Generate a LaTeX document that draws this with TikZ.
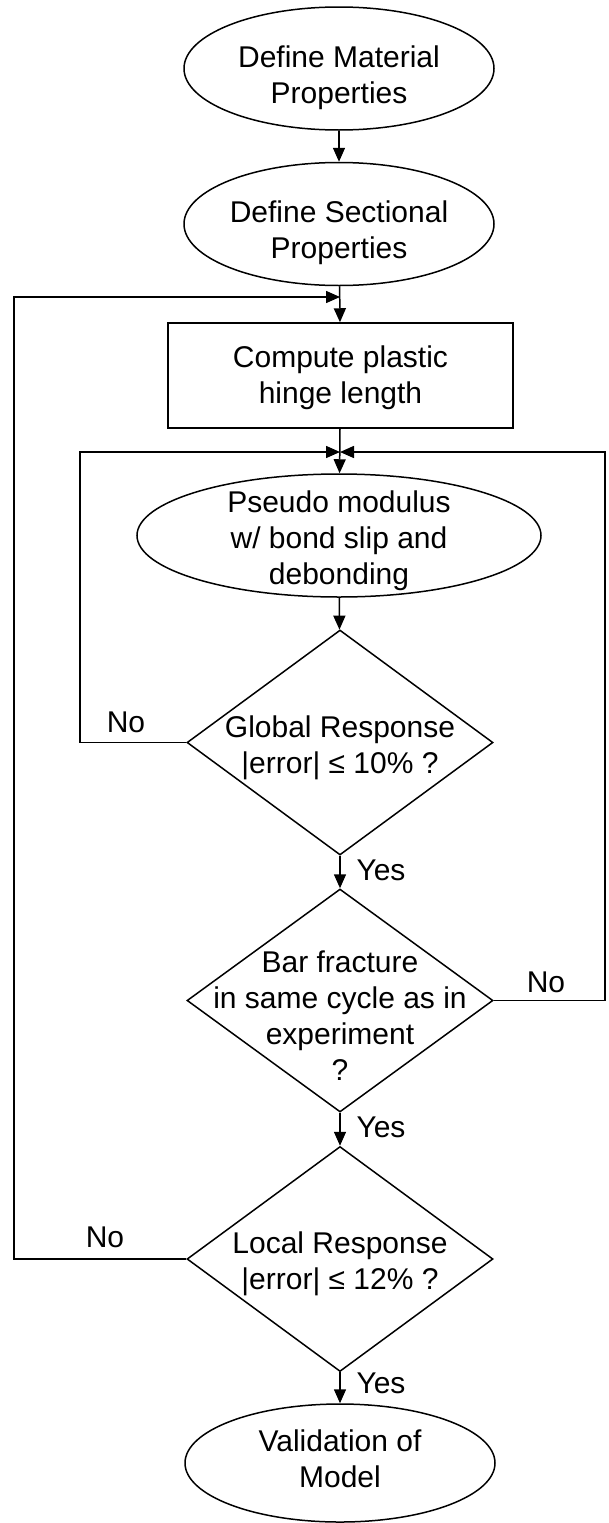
\documentclass[tikz,border=0pt]{standalone}
\usepackage{fontspec}
\setmainfont{Liberation Sans}
\usetikzlibrary{shapes.geometric,arrows.meta}
\newcommand{\flowtext}[2][0pt]{\makebox[0pt]{\smash{\raisebox{#1}{\begin{tabular}[t]{@{}c@{}}#2\end{tabular}}}}}
\begin{document}
\begin{tikzpicture}[x=1pt,y=-1pt,
  font=\fontsize{30}{36}\selectfont,
  oval/.style={ellipse, draw, line width=1.5pt, inner sep=0pt, minimum width=310pt, minimum height=123pt},
  procbox/.style={rectangle, draw, line width=1.5pt, inner sep=0pt},
  decision/.style={diamond, draw, line width=1.5pt, inner sep=0pt, minimum width=306pt, minimum height=225pt},
  arr/.style={-{Triangle[width=12pt,length=14pt]}, line width=1.5pt}]
\useasboundingbox (0,0) rectangle (608,1523);
\node[oval] (mat) at (339,68.5){\flowtext[1pt]{Define Material\\Properties}};
\node[oval] (sec) at (339,224){\flowtext[2pt]{Define Sectional\\Properties}};
\node[procbox, minimum width=345pt, minimum height=105pt] (hinge) at (340.5,375.5){\flowtext[8.5pt]{Compute plastic\\hinge length}};
\node[oval, minimum width=404pt] (pseudo) at (339,535.5){\flowtext[23.5pt]{Pseudo modulus\\w/ bond slip and\\debonding}};
\node[decision] (glob) at (340,742.5){\flowtext[5.5pt]{Global Response\\|error| ≤ 10\% ?}};
\node[decision, minimum height=223pt] (bar) at (340,1000.5){\flowtext[28.5pt]{Bar fracture\\in same cycle as in\\experiment\\?}};
\node[decision] (loc) at (340,1259){\flowtext[6pt]{Local Response\\|error| ≤ 12\% ?}};
\node[oval, minimum height=118pt] (valid) at (340,1463){\flowtext[12pt]{Validation of\\Model}};
\coordinate (j1) at (340,297);
\coordinate (j2) at (340,452);
\coordinate (lo) at (14,297);
\coordinate (li) at (80,452);
\coordinate (ri) at (605,452);
\node (no1) at (126,722){No};
\node (no2) at (546,982){No};
\node (no3) at (105,1237){No};
\node (yes1) at (381,870){Yes};
\node (yes2) at (381,1127){Yes};
\node (yes3) at (381,1383){Yes};
\draw[arr](mat) -- (sec);
\draw[arr](sec) -- (hinge);
\draw[arr](hinge) -- (pseudo);
\draw[arr](pseudo) -- (glob);
\draw[arr](glob) -- (bar);
\draw[arr](bar) -- (loc);
\draw[arr](loc) -- (valid);
\draw[arr](loc.west) -| (lo) -- (j1);
\draw[arr](glob.west) -| (li) -- (j2);
\draw[arr](bar.east) -| (ri) -- (j2);
\end{tikzpicture}
\end{document}
